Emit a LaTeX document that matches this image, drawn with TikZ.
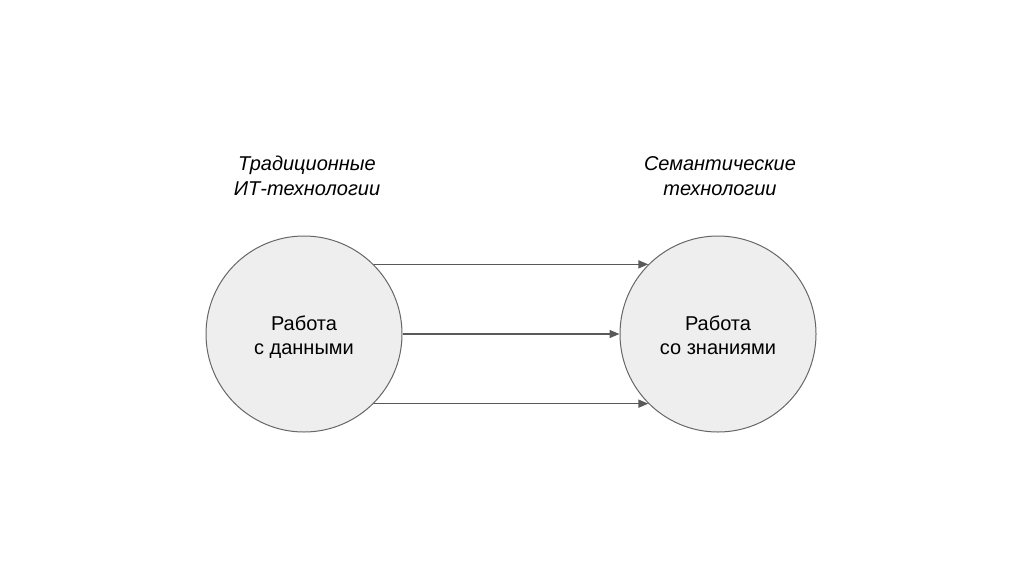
\documentclass[tikz,border=0pt]{standalone}
\usepackage{fontspec}
\setmainfont{Liberation Sans}
\definecolor{krfill}{HTML}{EEEEEE}
\definecolor{krline}{HTML}{666666}
\definecolor{krarrow}{HTML}{595959}
\usetikzlibrary{arrows.meta,positioning}

\begin{document}
\begin{tikzpicture}[x=1pt,y=-1pt,
  node distance=217pt,
  krug/.style={circle,draw=krline,fill=krfill,line width=1pt,
    minimum size=196pt,inner sep=0pt,align=center,font=\fontsize{20}{24}\selectfont},
  arr/.style={-{Triangle[length=10pt,width=8pt]},krarrow,line width=1.6pt},
  lab/.style={font=\fontsize{20}{25}\selectfont\itshape,align=center}]
\useasboundingbox (0,0) rectangle (1024,574);
\node[krug] (dat) at (304,334) {\rule{0pt}{24pt}Работа\\с данными\strut};
\node[krug,right=of dat] (know) {\rule{0pt}{24pt}Работа\\со знаниями\strut};
\node[lab] (trad) at (307,176) {Традиционные\\ИТ-технологии};
\node[lab] (sem) at (720,176) {Семантические\\технологии};
\draw[arr] (dat.45) -- (know.135);
\draw[arr] (dat.east) -- (know.west);
\draw[arr] (dat.-45) -- (know.-135);
\end{tikzpicture}
\end{document}
